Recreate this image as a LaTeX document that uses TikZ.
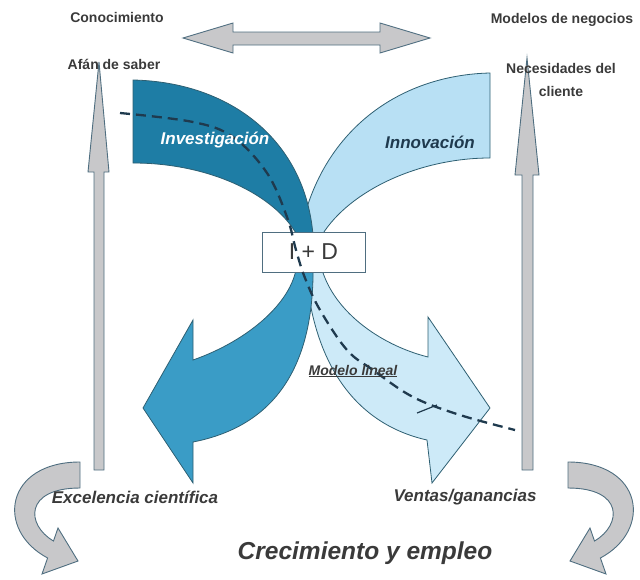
\documentclass[tikz,border=0pt]{standalone}
\usepackage{fontspec}
\setmainfont{Liberation Sans}
\definecolor{grisfill}{HTML}{C8C8CA}
\definecolor{grisline}{HTML}{4F6E80}
\definecolor{azulosc}{HTML}{1E7DA5}
\definecolor{azulmed}{HTML}{3A9CC6}
\definecolor{celeste}{HTML}{B8E0F4}
\definecolor{celclaro}{HTML}{CDEAF8}
\definecolor{borde}{HTML}{2E5F72}
\definecolor{texto}{HTML}{3A3A3A}
\definecolor{navy}{HTML}{1F3A4E}
\begin{document}
\begin{tikzpicture}[x=1pt,y=-1pt,
    gris/.style={fill=grisfill,draw=grisline,line width=0.9pt},
    banda/.style={draw=borde,line width=0.8pt},
    lbl/.style={font=\fontsize{14}{23}\selectfont\bfseries,text=texto},
    grande/.style={font=\fontsize{17}{20}\selectfont\bfseries\itshape,text=texto}]
      \useasboundingbox (0,0) rectangle (640,579);
      % flechas grises
      \draw[gris] (183,38) -- (233,23) -- (233,32) -- (380,32) -- (380,23) -- (430,38)
        -- (380,53) -- (380,45) -- (233,45) -- (233,53) -- cycle;
      \draw[gris] (99,62) -- (109,172) -- (104,172) -- (104,470) -- (94,470) -- (94,172) -- (88,172) -- cycle;
      \draw[gris] (527,58) -- (539,175) -- (533,175) -- (533,470) -- (522,470) -- (522,175) -- (515,175) -- cycle;
      \draw[gris] (80,462) .. controls (5,462) and (-5,530) .. (47.6,558) -- (42,574) -- (78,561)
        -- (58,528) -- (53.5,541) .. controls (26,525) and (24,488) .. (80,488) -- cycle;
      \begin{scope}[xshift=648pt,xscale=-1]
        \draw[gris] (80,462) .. controls (5,462) and (-5,530) .. (47.6,558) -- (42,574) -- (78,561)
          -- (58,528) -- (53.5,541) .. controls (26,525) and (24,488) .. (80,488) -- cycle;
      \end{scope}
      % innovacion
      \filldraw[banda,fill=celeste] (490,73) .. controls (400,75) and (320,130) .. (300,235) -- (300,262)
        -- (322,262) -- (322,235) .. controls (350,190) and (420,158) .. (490,158) -- cycle;
      \filldraw[banda,fill=celclaro] (320,262) .. controls (330,310) and (380,345) .. (428,357) -- (428,317)
        -- (490,408) -- (432,483) -- (427,440) .. controls (360,425) and (312,370) .. (305,262) -- cycle;
      % investigacion
      \filldraw[banda,fill=azulmed] (313,262) .. controls (315,360) and (280,425) .. (193,442) -- (193,483)
        -- (143,408) -- (193,320) -- (193,360) .. controls (250,340) and (295,300) .. (297,262) -- cycle;
      \filldraw[banda,fill=azulosc] (133,80) .. controls (230,82) and (305,140) .. (313,235) -- (313,262)
        -- (297,262) -- (297,235) .. controls (275,195) and (210,163) .. (133,163) -- cycle;
      \node[draw=grisline,line width=1pt,fill=white,minimum width=103pt,minimum height=40pt,
        font=\fontsize{23}{26}\selectfont,text=texto] (imasd) at (313.5,252) {I + D};
      % modelo lineal
      \draw[navy,line width=2.3pt,dash pattern=on 10pt off 6pt] plot[smooth,tension=0.6] coordinates {
        (120,113) (193,122) (233,137) (267,173) (287,217) (296,250) (305,278) (320,310)
        (347,350) (373,370) (413,397) (460,415) (515,430)};
      \draw[navy,line width=1.2pt] (417,413) -- (437,405);
      % textos
      \node[lbl] (conoc) at (117,17) {Conocimiento};
      \node[lbl] (afan) at (114,64) {Afán de saber};
      \node[lbl] (modelos) at (562,20) {Modelos de negocios};
      \node[lbl,align=center] (necesidades) at (561,80) {Necesidades del\\cliente};
      \node[grande,text=white] (invest) at (215,140) {Investigación};
      \node[grande,text=navy] (innov) at (430,142) {Innovación};
      \node[text=texto,font=\fontsize{14}{16}\selectfont\bfseries\itshape] (modelo) at (353,371) {\underline{Modelo lineal}};
      \node[grande] (excel) at (135,497) {Excelencia científica};
      \node[grande] (ventas) at (465,497) {Ventas/ganancias};
      \node[grande,font=\fontsize{24.5}{28}\selectfont\bfseries\itshape] (crec) at (365,553) {Crecimiento y empleo};
\end{tikzpicture}
\end{document}
